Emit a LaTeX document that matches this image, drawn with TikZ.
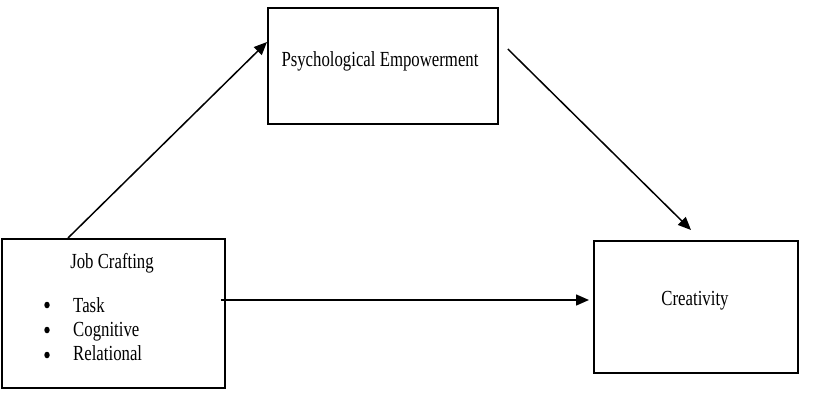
\documentclass[tikz,border=0pt]{standalone}
\usepackage{fontspec}
\setmainfont{Liberation Serif}[FakeStretch=0.78]
\usetikzlibrary{arrows.meta,calc}
\tikzset{
  boxst/.style={draw=black, line width=1.8pt, inner sep=0pt},
  lbl/.style={font=\fontsize{21.5}{25}\selectfont, anchor=base, inner sep=0pt, text=black},
  lbll/.style={lbl, anchor=base west},
  arr/.style={line width=1.5pt, -{Triangle[length=13pt,width=11pt]}},
  bul/.style={ellipse, fill=black, inner sep=0pt, minimum width=5.5pt, minimum height=6.5pt}
}
\usetikzlibrary{shapes.geometric}
\begin{document}
\begin{tikzpicture}[x=1pt,y=-1pt]
\useasboundingbox (0,0) rectangle (840,417);
% boxes
\node[boxst, minimum width=223pt, minimum height=149pt, anchor=north west] (job) at (1,238) {};
\node[boxst, minimum width=230pt, minimum height=116pt, anchor=north west] (psy) at (267,7) {};
\node[boxst, minimum width=204pt, minimum height=132pt, anchor=north west] (cre) at (593,240) {};
% texts
\node[lbl] (jobt) at (112,268) {Job Crafting};
\node[bul] (b1) at (47,305) {};
\node[bul] (b2) at (47,330) {};
\node[bul] (b3) at (47,355) {};
\node[lbll] (t1) at (73,312) {Task};
\node[lbll] (t2) at (73,336) {Cognitive};
\node[lbll] (t3) at (73,360) {Relational};
\node[lbl] (psyt) at (380,67) {Psychological Empowerment};
\node[lbl] (cret) at (695,305) {Creativity};
% connectors
\draw[arr] ([xshift=67pt]job.north west) -- ([yshift=-35pt]psy.north west);
\draw[arr] ([xshift=9pt,yshift=-42pt]psy.north east) -- ([xshift=98pt,yshift=10pt]cre.north west);
\draw[arr] ([xshift=-5pt,yshift=-62pt]job.north east) -- ([xshift=-4pt,yshift=-60pt]cre.north west);
\end{tikzpicture}
\end{document}
